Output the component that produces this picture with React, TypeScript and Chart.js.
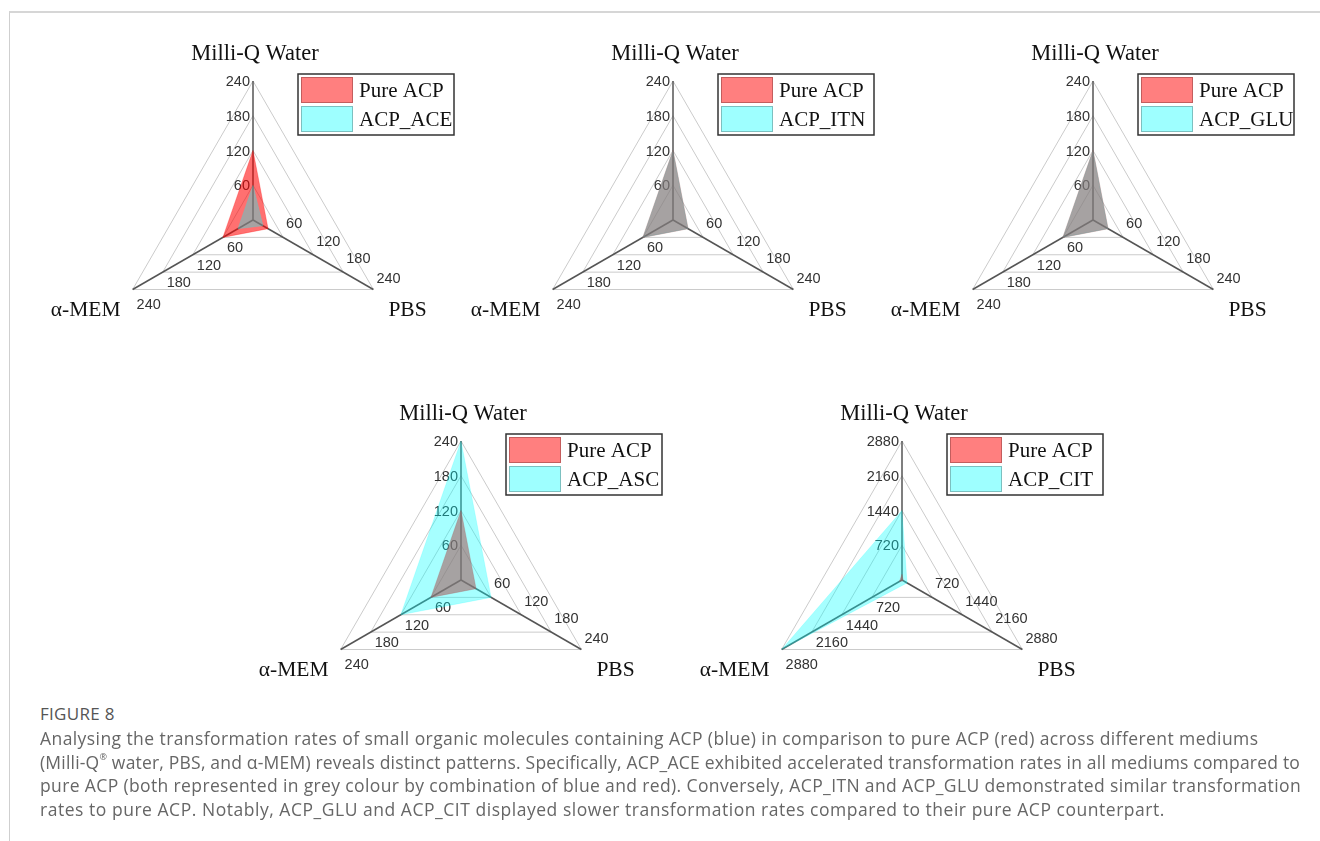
import React, { useEffect, useRef } from 'react';
import { Chart, registerables } from 'chart.js';

Chart.register(...registerables);

// ---- data ----
const MEDIA = ['Milli-Q Water', 'PBS', 'α-MEM'];
const PURE_ACP = [120, 30, 60];
const ACP_ACE = [60, 20, 30];
const ACP_ITN = [120, 30, 60];
const ACP_GLU = [120, 30, 60];
const ACP_ASC = [240, 60, 120];
const ACP_CIT = [1440, 120, 2880];
const TICKS_240 = [60, 120, 180, 240];
const TICKS_2880 = [720, 1440, 2160, 2880];
const PURE_LABEL = 'Pure ACP';

const CAPTION_TITLE = 'FIGURE 8';
const CAPTION_LINE_1 = 'Analysing the transformation rates of small organic molecules containing ACP (blue) in comparison to pure ACP (red) across different mediums';
const CAPTION_LINE_2A = '(Milli-Q';
const CAPTION_LINE_2B = '\u00AE';
const CAPTION_LINE_2C = ' water, PBS, and \u03B1-MEM) reveals distinct patterns. Specifically, ACP_ACE exhibited accelerated transformation rates in all mediums compared to';
const CAPTION_LINE_3 = 'pure ACP (both represented in grey colour by combination of blue and red). Conversely, ACP_ITN and ACP_GLU demonstrated similar transformation';
const CAPTION_LINE_4 = 'rates to pure ACP. Notably, ACP_GLU and ACP_CIT displayed slower transformation rates compared to their pure ACP counterpart.';

// ---- styles ----
const RED_FILL = 'rgba(255,0,0,0.56)';
const CYAN_FILL = 'rgba(0,255,255,0.35)';
const RED_SWATCH = 'rgba(255,0,0,0.5)';
const CYAN_SWATCH = 'rgba(0,255,255,0.38)';
const SERIF = '"Liberation Serif", "DejaVu Serif", serif';
const TICK_FONT = '14.5px "Liberation Sans", sans-serif';

type Panel = { name: string; values: number[]; ticks: number[]; cx: number; cy: number };

const PANELS: Panel[] = [
  { name: 'ACP_ACE', values: ACP_ACE, ticks: TICKS_240, cx: 253, cy: 220 },
  { name: 'ACP_ITN', values: ACP_ITN, ticks: TICKS_240, cx: 673, cy: 220 },
  { name: 'ACP_GLU', values: ACP_GLU, ticks: TICKS_240, cx: 1093, cy: 220 },
  { name: 'ACP_ASC', values: ACP_ASC, ticks: TICKS_240, cx: 461, cy: 580 },
  { name: 'ACP_CIT', values: ACP_CIT, ticks: TICKS_2880, cx: 902, cy: 580 },
];

const R = 139;
const CW = 430;
const CH = 340;
const OX = 215;
const OY = 190;

function RadarPanel({ panel }: { panel: Panel }) {
  const ref = useRef<HTMLCanvasElement | null>(null);
  useEffect(() => {
    if (!ref.current) return;
    const ticks = panel.ticks;
    const max = ticks[ticks.length - 1];
    const step = ticks[0];
    const decor = {
      id: 'decor',
      beforeDatasetsDraw(chart: any) {
        const s = chart.scales.r;
        const ctx = chart.ctx;
        ctx.save();
        ctx.font = TICK_FONT;
        ctx.fillStyle = '#333';
        ctx.textBaseline = 'middle';
        ticks.forEach((t, k) => {
          const last = k === ticks.length - 1;
          let p = s.getPointPositionForValue(0, t);
          ctx.textAlign = 'right';
          ctx.fillText(String(t), p.x - 3, p.y + 1);
          p = s.getPointPositionForValue(1, t);
          ctx.textAlign = 'left';
          ctx.fillText(String(t), p.x + 3, p.y - (last ? 11 : 13));
          p = s.getPointPositionForValue(2, t);
          ctx.fillText(String(t), p.x + 4, p.y + (last ? 15 : 11));
        });
        ctx.restore();
      },
      afterDraw(chart: any) {
        const s = chart.scales.r;
        const ctx = chart.ctx;
        const ds = chart.data.datasets;
        ctx.save();
        ctx.fillStyle = '#111';
        ctx.textBaseline = 'middle';
        // axis titles
        const top = s.getPointPositionForValue(0, max);
        const br = s.getPointPositionForValue(1, max);
        const bl = s.getPointPositionForValue(2, max);
        ctx.font = '22.5px ' + SERIF;
        ctx.textAlign = 'center';
        ctx.fillText(chart.data.labels[0], top.x + 2, top.y - 27);
        ctx.font = '21.5px ' + SERIF;
        ctx.textAlign = 'left';
        ctx.fillText(chart.data.labels[1], br.x + 15, br.y + 21);
        ctx.textAlign = 'right';
        ctx.fillText(chart.data.labels[2], bl.x - 12, bl.y + 21);
        // legend
        const bx = s.xCenter + 45;
        const by = s.yCenter - 146;
        ctx.fillStyle = '#fff';
        ctx.fillRect(bx, by, 156, 61);
        ctx.lineWidth = 1.5;
        ctx.strokeStyle = '#333';
        ctx.strokeRect(bx, by, 156, 61);
        const sw = [
          { fill: RED_SWATCH, stroke: 'rgba(190,90,90,0.9)', y: by + 3 },
          { fill: CYAN_SWATCH, stroke: 'rgba(120,185,185,0.9)', y: by + 32 },
        ];
        sw.forEach((w, i) => {
          ctx.fillStyle = w.fill;
          ctx.fillRect(bx + 3, w.y, 52, 26);
          ctx.lineWidth = 1;
          ctx.strokeStyle = w.stroke;
          ctx.strokeRect(bx + 3.5, w.y + 0.5, 51, 25);
          ctx.fillStyle = '#111';
          ctx.font = '21px ' + SERIF;
          ctx.textAlign = 'left';
          ctx.fillText(ds[i].label, bx + 61, w.y + 14);
        });
        ctx.restore();
      },
    };
    const chart = new Chart(ref.current, {
      type: 'radar',
      data: {
        labels: MEDIA,
        datasets: [
          {
            label: PURE_LABEL,
            data: PURE_ACP,
            backgroundColor: RED_FILL,
            borderColor: RED_FILL,
            borderWidth: 0.5,
            fill: true,
            pointRadius: 0,
            order: 1,
          },
          {
            label: panel.name,
            data: panel.values,
            backgroundColor: CYAN_FILL,
            borderColor: CYAN_FILL,
            borderWidth: 0.5,
            fill: true,
            pointRadius: 0,
            order: 0,
          },
        ],
      },
      options: {
        responsive: false,
        maintainAspectRatio: false,
        animation: false,
        events: [],
        layout: { padding: { left: OX - R, right: CW - OX - R, top: OY - R, bottom: CH - OY - R } },
        plugins: { legend: { display: false }, tooltip: { enabled: false } },
        elements: { line: { tension: 0 } },
        scales: {
          r: {
            min: 0,
            max,
            ticks: { display: false, stepSize: step },
            pointLabels: { display: false },
            grid: { color: '#cbcbcb', lineWidth: 1, circular: false },
            angleLines: { color: '#555', lineWidth: 1.5 },
          },
        },
      } as any,
      plugins: [decor as any],
    });
    return () => chart.destroy();
  }, [panel]);
  return (
    <canvas
      ref={ref}
      width={CW}
      height={CH}
      style={{ position: 'absolute', left: panel.cx - OX, top: panel.cy - OY, width: CW, height: CH }}
    />
  );
}

const captionStyle = (i: number, spacing: number): React.CSSProperties => ({
  position: 'absolute',
  left: 40,
  top: 727 + i * 23.7,
  font: '17.5px "Open Sans", sans-serif',
  letterSpacing: spacing,
  color: '#666',
  whiteSpace: 'nowrap',
  lineHeight: '23px',
});

export default function App() {
  return (
    <div style={{ position: 'absolute', left: 0, top: 0, width: 1320, height: 841, background: '#fff', overflow: 'hidden' }}>
      <div
        style={{
          position: 'absolute',
          left: 9,
          top: 11,
          width: 1320,
          height: 840,
          borderTop: '2px solid #d6d6d6',
          borderLeft: '1.5px solid #cfcfcf',
        }}
      />
      {PANELS.map((p) => (
        <RadarPanel key={p.name} panel={p} />
      ))}
      <div
        style={{
          position: 'absolute',
          left: 40,
          top: 702,
          font: '17px "Open Sans", sans-serif',
          color: '#555',
          letterSpacing: 0.3,
        }}
      >
        {CAPTION_TITLE}
      </div>
      <div style={captionStyle(0, 0.42)}>{CAPTION_LINE_1}</div>
      <div style={captionStyle(1, 0.2)}>
        {CAPTION_LINE_2A}
        <sup style={{ fontSize: 9, verticalAlign: 'top', lineHeight: '12px' }}>{CAPTION_LINE_2B}</sup>
        {CAPTION_LINE_2C}
      </div>
      <div style={captionStyle(2, 0.37)}>{CAPTION_LINE_3}</div>
      <div style={captionStyle(3, 0.53)}>{CAPTION_LINE_4}</div>
    </div>
  );
}
